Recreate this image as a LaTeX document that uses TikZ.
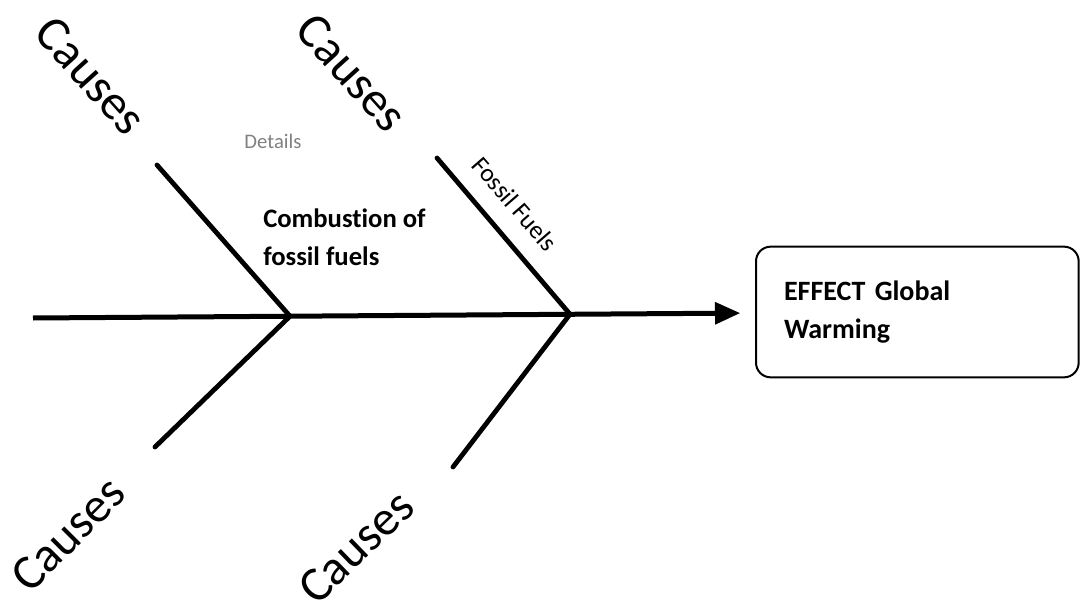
\documentclass[tikz,border=0pt]{standalone}
\usepackage{fontspec}
\setmainfont{Carlito}[Ligatures=NoCommon]
\usetikzlibrary{arrows.meta}
\begin{document}
\begin{tikzpicture}[x=0.75pt,y=-0.75pt,
  bone/.style={line width=3.6pt,line cap=round},
  cause/.style={font=\fontsize{37}{40}\selectfont,inner sep=0pt},
  lbl/.style={font=\bfseries\fontsize{20}{28.5}\selectfont,align=left,inner sep=0pt},
  effectbox/.style={draw,line width=1.5pt,rounded corners=11pt,minimum width=242pt,minimum height=98pt,
    align=left,text width=200pt,inner xsep=21pt,font=\bfseries\fontsize{21}{29}\selectfont}]
\useasboundingbox (0,0) rectangle (1081,606);
% spine
\coordinate (tail) at (33,318);
\coordinate (j1) at (290,316.2);
\coordinate (j2) at (570,314.2);
\node[effectbox,anchor=west] (effect) at (755,312) {EFFECT Global\\Warming};
\draw[line width=3.75pt,-{Triangle[length=19pt,width=16pt]},shorten >=11pt] (tail) -- (effect.west |- 0,313);
% bones
\coordinate (ul) at (157,165);
\coordinate (ll) at (155,447);
\coordinate (ur) at (437,158);
\coordinate (lr) at (453,467);
\draw[bone] (ul) -- (j1) -- (ll);
\draw[bone] (ur) -- (j2) -- (lr);
% labels
\node[cause,rotate=-48] (c1) at (91,76) {Causes};
\node[cause,rotate=-48] (c2) at (352,73) {Causes};
\node[cause,rotate=45] (c3) at (68,534) {Causes};
\node[cause,rotate=44] (c4) at (356,547) {Causes};
\node[font=\fontsize{15.5}{18}\selectfont,text=black!50,inner sep=0pt] (det) at (273,141) {Details};
\node[lbl,anchor=west] (comb) at (263,237) {Combustion of\\fossil fuels};
\node[font=\fontsize{19}{22}\selectfont,rotate=-49,inner sep=0pt] (ff) at (515,204) {Fossil Fuels};
\end{tikzpicture}
\end{document}
